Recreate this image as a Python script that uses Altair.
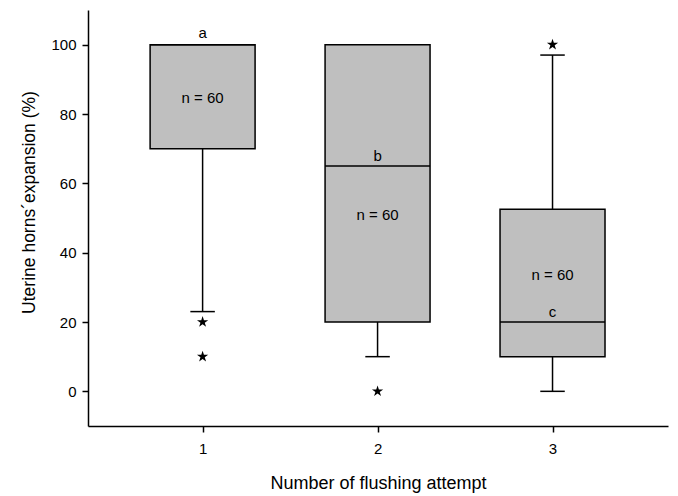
import altair as alt
import pandas as pd

groups = [1, 2, 3]
q1 = [70, 20, 10]
median = [100, 65, 20]
q3 = [100, 100, 52.5]
whisk_low = [23, 10, 0]
whisk_high = [100, 100, 97]
outlier_group = [1, 1, 2, 3]
outlier_val = [20, 10, 0, 100]
letters = ["a", "b", "c"]
letter_y = [103.5, 68, 23]
n_labels = ["n = 60", "n = 60", "n = 60"]
n_y = [84.6, 51, 33.5]

box_half = 0.3
cap_half = 0.07

boxes = pd.DataFrame({"g": groups, "q1": q1, "med": median, "q3": q3,
                      "lo": whisk_low, "hi": whisk_high,
                      "letter": letters, "ly": letter_y, "n": n_labels, "ny": n_y})
outs = pd.DataFrame({"g": outlier_group, "v": outlier_val})

xscale = alt.Scale(domain=[0.345, 3.66], nice=False, zero=False)
yscale = alt.Scale(domain=[-10, 110], nice=False, zero=False)

xaxis = alt.Axis(values=[1, 2, 3], format="d", grid=False, title="Number of flushing attempt",
                 labelFontSize=15, titleFontSize=18, labelPadding=9, titlePadding=18,
                 tickSize=6, tickWidth=1.5, domainWidth=1.5, domainColor="black", tickColor="black",
                 labelColor="black", titleColor="black", labelFont="Liberation Sans",
                 titleFont="Liberation Sans", titleFontWeight="normal")
yaxis = alt.Axis(values=[0, 20, 40, 60, 80, 100], grid=False, title="Uterine horns´expansion (%)",
                 labelFontSize=15, titleFontSize=17.5, labelPadding=6, titlePadding=12,
                 titleY=192, titleAlign="center",
                 tickSize=6, tickWidth=1.5, domainWidth=1.5, domainColor="black", tickColor="black",
                 labelColor="black", titleColor="black", labelFont="Liberation Sans",
                 titleFont="Liberation Sans", titleFontWeight="normal")

base = alt.Chart(boxes).transform_calculate(
    xl=f"datum.g - {box_half}", xr=f"datum.g + {box_half}",
    cl=f"datum.g - {cap_half}", cr=f"datum.g + {cap_half}")

whisk_lo = base.mark_rule(color="black", strokeWidth=1.5).encode(
    x=alt.X("g:Q", scale=xscale, axis=xaxis),
    y=alt.Y("lo:Q", scale=yscale, axis=yaxis), y2="q1:Q")
whisk_hi = base.mark_rule(color="black", strokeWidth=1.5).encode(
    x="g:Q", y="q3:Q", y2="hi:Q")
cap_lo = base.mark_rule(color="black", strokeWidth=1.5).encode(
    x="cl:Q", x2="cr:Q", y="lo:Q")
cap_hi = base.transform_filter("datum.hi > datum.q3").mark_rule(color="black", strokeWidth=1.5).encode(
    x="cl:Q", x2="cr:Q", y="hi:Q")
box = base.mark_rect(fill="#bfbfbf", stroke="black", strokeWidth=1.5).encode(
    x="xl:Q", x2="xr:Q", y="q1:Q", y2="q3:Q")
med = base.mark_rule(color="black", strokeWidth=1.5).encode(
    x="xl:Q", x2="xr:Q", y="med:Q")
let = base.mark_text(fontSize=15, font="Liberation Sans", color="black").encode(
    x="g:Q", y="ly:Q", text="letter:N")
ntext = base.mark_text(fontSize=15, font="Liberation Sans", color="black").encode(
    x="g:Q", y="ny:Q", text="n:N")

star = "M0,-1L0.2245,-0.309L0.951,-0.309L0.363,0.118L0.588,0.809L0,0.382L-0.588,0.809L-0.363,0.118L-0.951,-0.309L-0.2245,-0.309Z"
points = alt.Chart(outs).mark_point(shape=star, filled=True, color="black", size=140, opacity=1).encode(
    x="g:Q", y="v:Q")

chart = alt.layer(whisk_lo, whisk_hi, cap_lo, cap_hi, box, med, let, ntext, points).properties(
    width=580, height=416,
    background="white",
    autosize=alt.AutoSizeParams(type="none"),
    padding={"left": 88, "top": 10, "right": 10, "bottom": 70},
).configure_view(stroke=None)

chart.save("out.html", embed_options={"renderer": "svg", "actions": False})
